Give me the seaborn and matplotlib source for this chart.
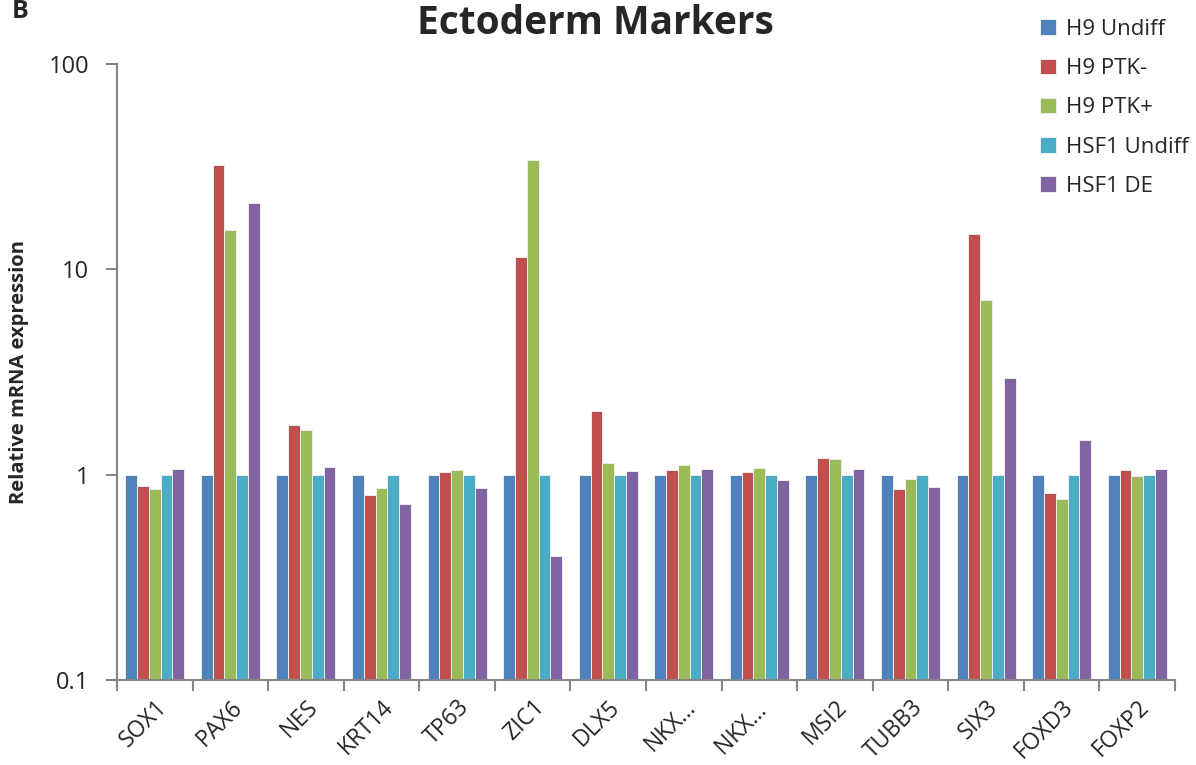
import matplotlib
matplotlib.use("Agg")
import matplotlib.pyplot as plt
import matplotlib.ticker as mticker
import numpy as np
import pandas as pd
import seaborn as sns

genes = ["SOX1", "PAX6", "NES", "KRT14", "TP63", "ZIC1", "DLX5",
         "NKX\u2026", "NKX\u2026 ", "MSI2", "TUBB3", "SIX3", "FOXD3", "FOXP2"]
samples = ["H9 Undiff", "H9 PTK-", "H9 PTK+", "HSF1 Undiff", "HSF1 DE"]

h9_undiff = [1.0] * 14
h9_ptk_minus = [0.88, 32.2, 1.74, 0.80, 1.03, 11.5, 2.04, 1.05, 1.03, 1.20, 0.85, 14.9, 0.81, 1.05]
h9_ptk_plus = [0.85, 15.6, 1.65, 0.86, 1.05, 34.1, 1.14, 1.11, 1.08, 1.19, 0.95, 7.1, 0.76, 0.99]
hsf1_undiff = [1.0] * 14
hsf1_de = [1.06, 21.1, 1.09, 0.72, 0.86, 0.40, 1.04, 1.06, 0.94, 1.07, 0.87, 2.96, 1.48, 1.07]

colors = ["#4F81BD", "#C0504D", "#9BBB59", "#4BACC6", "#8064A2"]

series = [h9_undiff, h9_ptk_minus, h9_ptk_plus, hsf1_undiff, hsf1_de]
df = pd.DataFrame({
    "gene": np.tile(genes, len(samples)),
    "sample": np.repeat(samples, len(genes)),
    "value": np.concatenate(series),
})

sns.set_theme(style="white")
plt.rcParams["font.family"] = ["Open Sans", "DejaVu Sans"]

fig = plt.figure(figsize=(11.96, 7.65), dpi=100)
ax = fig.add_axes([117 / 1196, 1 - 680 / 765, (1175 - 117) / 1196, (680 - 64) / 765])

sns.barplot(data=df, x="gene", y="value", hue="sample", order=genes,
            hue_order=samples, palette=colors, saturation=1, width=0.78, gap=0,
            edgecolor="#eeeeee", linewidth=0.7, errorbar=None, ax=ax,
            legend=True)

ax.set_yscale("log")
ax.set_ylim(0.1, 100)
ax.set_xlim(-0.5, len(genes) - 0.5)
ax.yaxis.set_major_locator(mticker.FixedLocator([0.1, 1, 10, 100]))
ax.yaxis.set_major_formatter(mticker.FixedFormatter(["0.1", "1", "10", "100"]))
ax.yaxis.set_minor_locator(mticker.NullLocator())
ax.tick_params(axis="y", which="major", direction="out", length=8, width=1.5,
               color="#868686", labelsize=17, pad=12, left=True)

ax.set_xticks(range(len(genes)))
ax.set_xticklabels(genes, rotation=45, ha="right", rotation_mode="anchor", fontsize=16.5)
ax.set_xticks(np.arange(-0.5, len(genes)), minor=True)
ax.tick_params(axis="x", which="major", length=0, pad=11)
ax.tick_params(axis="x", which="minor", direction="out", length=8, width=1.5,
               color="#868686", bottom=True)

for side in ["top", "right"]:
    ax.spines[side].set_visible(False)
for side in ["left", "bottom"]:
    ax.spines[side].set_color("#868686")
    ax.spines[side].set_linewidth(1.5)

ax.set_xlabel("")
ax.set_ylabel("Relative mRNA expression", fontsize=14.5, fontweight="bold")
ax.yaxis.set_label_coords(-0.083, 0.5)

handles, labels = ax.get_legend_handles_labels()
ax.legend_.remove()
fig.legend(handles, labels, loc="upper left", bbox_to_anchor=(1020 / 1196, 1 + 1 / 765),
           frameon=False, fontsize=16, handlelength=0.7, handleheight=0.7,
           handletextpad=0.45, labelspacing=0.82)

fig.text(595 / 1196, 1 - 24 / 765, "Ectoderm Markers", ha="center", va="center",
         fontsize=28, fontweight="bold")
fig.text(12 / 1196, 1 - 12 / 765, "B", ha="left", va="center", fontsize=18,
         fontweight="bold")

fig.savefig("out.png", dpi=100)
